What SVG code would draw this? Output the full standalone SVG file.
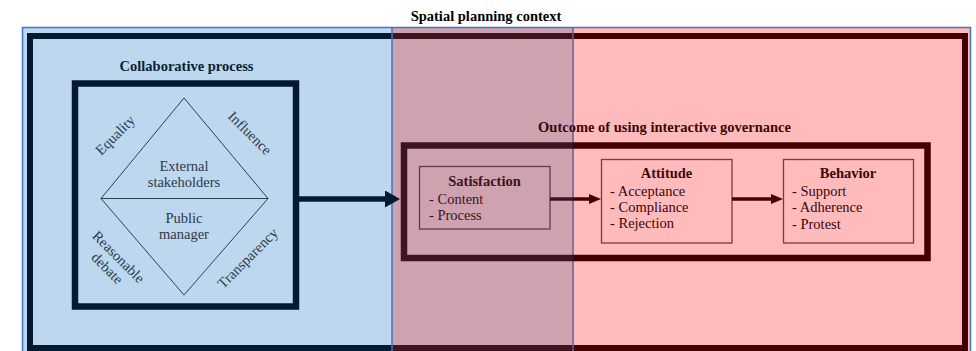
<svg xmlns="http://www.w3.org/2000/svg" width="976" height="351" viewBox="0 0 976 351">
  <style>
    text { font-family: "Liberation Serif", "Times New Roman", serif; font-size: 14.5px; }
    .b { font-weight: bold; }
    .c { text-anchor: middle; }
    .navy { fill: #0B1F33; }
    .dia { fill: #2B3A4A; }
    .mar { fill: #3B0808; }
    .ovl { fill: #3A1422; }
    .box { fill: none; stroke-width: 1.3; }
  </style>
  <defs>
    <linearGradient id="bg" gradientUnits="userSpaceOnUse" x1="0" y1="0" x2="976" y2="0">
      <stop offset="0" stop-color="#BDD7EE"/>
      <stop offset="0.4016" stop-color="#BDD7EE"/>
      <stop offset="0.4016" stop-color="#CFA2B0"/>
      <stop offset="0.5871" stop-color="#CFA2B0"/>
      <stop offset="0.5871" stop-color="#FFBBBB"/>
      <stop offset="1" stop-color="#FFBBBB"/>
    </linearGradient>
    <linearGradient id="band" gradientUnits="userSpaceOnUse" x1="0" y1="0" x2="976" y2="0">
      <stop offset="0" stop-color="#021B33"/>
      <stop offset="0.4016" stop-color="#021B33"/>
      <stop offset="0.4016" stop-color="#3E1421"/>
      <stop offset="0.5871" stop-color="#3E1421"/>
      <stop offset="0.5871" stop-color="#420000"/>
      <stop offset="1" stop-color="#420000"/>
    </linearGradient>
    <marker id="navyHead" viewBox="0 0 15 17" refX="3" refY="8.5" markerWidth="15" markerHeight="17" markerUnits="userSpaceOnUse" orient="auto">
      <path d="M0,0 L15,8.5 L0,17 z" fill="#021B33"/>
    </marker>
    <marker id="marHead" viewBox="0 0 12 10" refX="3" refY="5" markerWidth="12" markerHeight="10" markerUnits="userSpaceOnUse" orient="auto">
      <path d="M0,0 L12,5 L0,10 z" fill="#420000"/>
    </marker>
  </defs>

  <g id="spatial-planning-context">
    <text class="b c" x="486" y="21" fill="#000">Spatial planning context</text>
    <rect x="22.5" y="27.5" width="948" height="340" fill="url(#bg)" stroke="#4472C4" stroke-width="1.5"/>
    <rect x="30" y="36" width="935" height="312" fill="none" stroke="url(#band)" stroke-width="6"/>
    <line x1="392" y1="27.5" x2="392" y2="351" stroke="#4472C4" stroke-width="1.5"/>
    <line x1="573" y1="27.5" x2="573" y2="351" stroke="#6B5B95" stroke-width="1.5"/>
  </g>

  <g id="collaborative-process">
    <text class="b c navy" x="186.5" y="71">Collaborative process</text>
    <rect x="75" y="83.5" width="221" height="223" fill="none" stroke="#021B33" stroke-width="6.5"/>
    <polygon points="184,98 268,198.5 184,295 101,198.5" fill="none" stroke="#2F3F52" stroke-width="1"/>
    <line x1="101" y1="198.5" x2="268" y2="198.5" stroke="#2F3F52" stroke-width="1"/>
    <text class="c dia" x="184" y="171">External</text>
    <text class="c dia" x="184" y="187">stakeholders</text>
    <text class="c dia" x="184" y="222.5">Public</text>
    <text class="c dia" x="184" y="238.5">manager</text>
    <text class="c dia" transform="translate(115,135) rotate(-45)" y="5">Equality</text>
    <text class="c dia" transform="translate(250,133) rotate(45)" y="5">Influence</text>
    <text class="c dia" transform="translate(113,262.5) rotate(45)"><tspan x="0" y="-3">Reasonable</tspan><tspan x="0" y="13">debate</tspan></text>
    <text class="c dia" transform="translate(247.5,258) rotate(-45)" y="5">Transparency</text>
  </g>

  <g id="outcome">
    <text class="b c mar" x="664.5" y="132">Outcome of using interactive governance</text>
    <rect x="404" y="145.5" width="523.5" height="112.5" fill="none" stroke="url(#band)" stroke-width="6.5"/>
  </g>

  <g id="satisfaction">
    <rect class="box" x="419.5" y="166.5" width="130.5" height="62.5" stroke="#6A3645"/>
    <text class="b c ovl" x="484.5" y="186">Satisfaction</text>
    <text class="ovl" x="429" y="203.5">- Content</text>
    <text class="ovl" x="429" y="220">- Process</text>
  </g>

  <g id="attitude">
    <rect class="box" x="601.5" y="159.5" width="130.5" height="83.5" stroke="#7A3A3A"/>
    <text class="b c mar" x="666.5" y="178">Attitude</text>
    <text class="mar" x="610" y="196">- Acceptance</text>
    <text class="mar" x="610" y="212">- Compliance</text>
    <text class="mar" x="610" y="228">- Rejection</text>
  </g>

  <g id="behavior">
    <rect class="box" x="783.5" y="159.5" width="130" height="83.5" stroke="#7A3A3A"/>
    <text class="b c mar" x="848" y="178">Behavior</text>
    <text class="mar" x="792" y="196">- Support</text>
    <text class="mar" x="792" y="212">- Adherence</text>
    <text class="mar" x="792" y="229">- Protest</text>
  </g>

  <g id="connectors" fill="none">
    <path d="M299,199 H388" stroke="#021B33" stroke-width="5.5" marker-end="url(#navyHead)"/>
    <path d="M550,199 H592" stroke="url(#band)" stroke-width="3.5" marker-end="url(#marHead)"/>
    <path d="M732,199 H774" stroke="#420000" stroke-width="3.5" marker-end="url(#marHead)"/>
  </g>
</svg>
